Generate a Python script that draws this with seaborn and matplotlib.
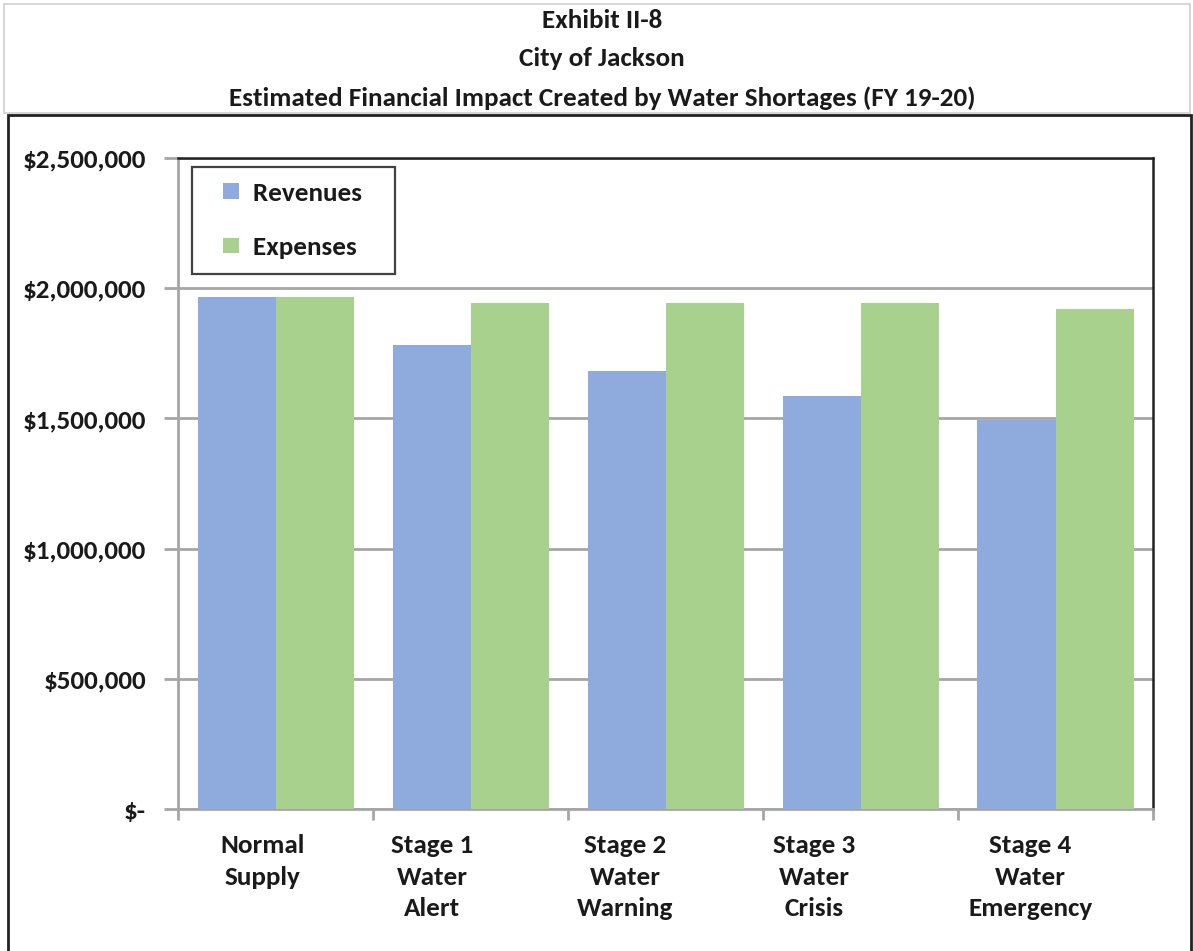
import matplotlib
matplotlib.use("Agg")
import matplotlib.pyplot as plt
from matplotlib.patches import Rectangle, Patch
from matplotlib.ticker import FixedLocator
from matplotlib.legend_handler import HandlerPatch
from matplotlib.transforms import ScaledTranslation
import seaborn as sns
import pandas as pd

stages = ["Normal\nSupply", "Stage 1\nWater\nAlert", "Stage 2\nWater\nWarning",
          "Stage 3\nWater\nCrisis", "Stage 4\nWater\nEmergency"]
revenues = [1966000, 1782000, 1683000, 1587000, 1494000]
expenses = [1966000, 1943000, 1943000, 1943000, 1920000]
series_names = ["Revenues", "Expenses"]
y_ticks = [0, 500000, 1000000, 1500000, 2000000, 2500000]
y_tick_labels = ["$-", "$500,000", "$1,000,000", "$1,500,000", "$2,000,000", "$2,500,000"]
title_lines = ["Exhibit II-8", "City of Jackson",
               "Estimated Financial Impact Created by Water Shortages (FY 19-20)"]

colors = ["#8FAADC", "#A9D18E"]
grid_gray = "#A6A6A6"
text_color = "#1a1a1a"
font = "Carlito"

# horizontal nudges (pixels) for the wrapped category labels
label_shift_px = [-13, -38, -40, -46, -25]

sns.set_theme(style="white")
plt.rcParams["font.family"] = [font, "DejaVu Sans"]
plt.rcParams["font.weight"] = "bold"

df = pd.DataFrame({
    "stage": stages * 2,
    "value": revenues + expenses,
    "series": [series_names[0]] * len(stages) + [series_names[1]] * len(stages),
})

W, H = 1193, 951
DPI = 100
fig = plt.figure(figsize=(W / DPI, H / DPI), dpi=DPI)
fig.patch.set_facecolor("white")

# title panel and chart frame
fig.add_artist(Rectangle((4 / W, 1 - 113 / H), 1186 / W, 109 / H, transform=fig.transFigure,
                         fill=False, edgecolor="#D0D0D0", lw=1.2))
fig.add_artist(Rectangle((8 / W, -0.01), 1183 / W, 1 - 115 / H + 0.01, transform=fig.transFigure,
                         fill=False, edgecolor="#222222", lw=2.0))

for line, yc in zip(title_lines, [21, 59, 98]):
    fig.text(602 / W, 1 - yc / H, line, ha="center", va="center",
             fontsize=19.5, fontweight="bold", color=text_color)

left, right, top, bottom = 178, 1153, 158, 809
ax = fig.add_axes([left / W, 1 - bottom / H, (right - left) / W, (bottom - top) / H])

sns.barplot(data=df, x="stage", y="value", hue="series", palette=colors, saturation=1,
            width=0.8, ax=ax, legend=False, zorder=3, linewidth=0)

ax.set_ylim(0, 2500000)
ax.set_xlim(-0.5, len(stages) - 0.5)
ax.set_yticks(y_ticks)
ax.set_yticklabels(y_tick_labels)
ax.yaxis.grid(True, color=grid_gray, lw=2, zorder=0)
ax.set_axisbelow(True)
ax.set_xlabel("")
ax.set_ylabel("")

for s in ["top", "right"]:
    ax.spines[s].set_color("#222222")
    ax.spines[s].set_linewidth(1.8)
for s in ["left", "bottom"]:
    ax.spines[s].set_color(grid_gray)
    ax.spines[s].set_linewidth(2)

ax.tick_params(axis="y", which="major", length=10, width=2, color=grid_gray, pad=13,
               labelsize=19.5, labelcolor=text_color, left=True)
ax.tick_params(axis="x", which="major", length=0, pad=18, labelsize=19.5, labelcolor=text_color)
ax.xaxis.set_minor_locator(FixedLocator([i - 0.5 for i in range(len(stages) + 1)]))
ax.tick_params(axis="x", which="minor", length=8, width=2, color=grid_gray, bottom=True)
for lab, dx in zip(ax.get_xticklabels(), label_shift_px):
    lab.set_fontweight("bold")
    lab.set_linespacing(1.45)
    lab.set_va("top")
    lab.set_transform(lab.get_transform() + ScaledTranslation(dx / DPI, 0, fig.dpi_scale_trans))
for lab in ax.get_yticklabels():
    lab.set_fontweight("bold")


# square legend keys sitting at the right end of the handle box
SQ = 11.5  # points


def square_key(legend, orig_handle, xdescent, ydescent, width, height, fontsize):
    return Rectangle((width - SQ - xdescent, (height - SQ) / 2 - ydescent), SQ, SQ)


fs = 19.5
handles = [Patch(facecolor=c, edgecolor="none") for c in colors]
leg = ax.legend(handles, [n + "   " for n in series_names], loc="upper left",
                bbox_to_anchor=(14 / 975, 1 - 9 / 651),
                frameon=True, fancybox=False, edgecolor="#111111", fontsize=fs,
                handler_map={Patch: HandlerPatch(patch_func=square_key)},
                handlelength=1.2, handleheight=0.6, labelspacing=1.15, borderpad=0.55,
                handletextpad=0.5, borderaxespad=0)
leg.get_frame().set_linewidth(1.6)
for t in leg.get_texts():
    t.set_fontweight("bold")
    t.set_color(text_color)

fig.savefig("out.png", dpi=DPI, facecolor="white")
